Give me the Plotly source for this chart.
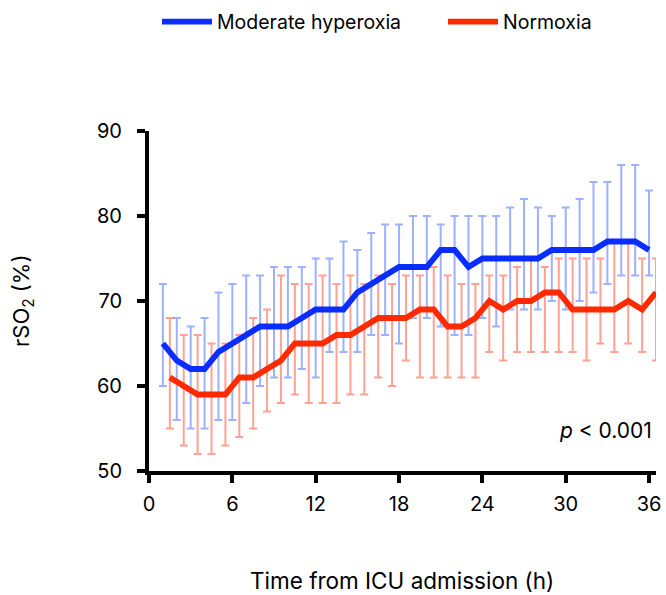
import plotly.graph_objects as go

# ---- data ----
hours = list(range(1, 37))
group_offset = 0.5  # dodge of the normoxia group on the time axis

hyper_mean = [65, 63, 62, 62, 64, 65, 66, 67, 67, 67, 68, 69, 69, 69, 71, 72, 73, 74,
              74, 74, 76, 76, 74, 75, 75, 75, 75, 75, 76, 76, 76, 76, 77, 77, 77, 76]
hyper_upper = [72, 68, 67, 68, 71, 72, 73, 73, 74, 74, 74, 75, 75, 77, 76, 78, 79, 79,
               80, 80, 79, 80, 80, 80, 80, 81, 82, 81, 80, 81, 82, 84, 84, 86, 86, 83]
hyper_lower = [60, 56, 55, 55, 56, 56, 58, 60, 61, 61, 62, 61, 64, 64, 64, 66, 66, 65,
               68, 68, 67, 66, 66, 68, 67, 69, 69, 69, 70, 69, 70, 71, 72, 73, 73, 73]

norm_mean = [61, 60, 59, 59, 59, 61, 61, 62, 63, 65, 65, 65, 66, 66, 67, 68, 68, 68,
             69, 69, 67, 67, 68, 70, 69, 70, 70, 71, 71, 69, 69, 69, 69, 70, 69, 71]
norm_upper = [68, 66, 66, 65, 65, 66, 68, 69, 73, 72, 72, 73, 72, 73, 72, 73, 72, 73,
              73, 74, 73, 72, 72, 73, 73, 74, 75, 74, 75, 75, 75, 75, 77, 77, 75, 75]
norm_lower = [55, 53, 52, 52, 53, 54, 55, 57, 58, 59, 58, 58, 58, 59, 59, 61, 60, 63,
              61, 61, 61, 61, 61, 64, 63, 64, 64, 64, 64, 64, 63, 65, 64, 65, 64, 63]

x_ticks = [0, 6, 12, 18, 24, 30, 36]
y_ticks = [50, 60, 70, 80, 90]

BLUE = "#0a2dff"
RED = "#ff2a00"
BLUE_BAR = "rgba(60,100,255,0.5)"
RED_BAR = "rgba(255,70,40,0.5)"
FONT = "Inter, Liberation Sans, Arial, sans-serif"

norm_hours = [h + group_offset for h in hours]

def err(mean, upper, lower):
    return dict(type="data", symmetric=False,
                array=[u - m for u, m in zip(upper, mean)],
                arrayminus=[m - l for m, l in zip(mean, lower)])

fig = go.Figure()

# error bars (below the lines)
fig.add_trace(go.Scatter(x=hours, y=hyper_mean, mode="markers",
                         marker=dict(size=1, opacity=0), showlegend=False, hoverinfo="skip",
                         error_y=dict(**err(hyper_mean, hyper_upper, hyper_lower),
                                      color=BLUE_BAR, thickness=2, width=4)))
fig.add_trace(go.Scatter(x=norm_hours, y=norm_mean, mode="markers",
                         marker=dict(size=1, opacity=0), showlegend=False, hoverinfo="skip",
                         error_y=dict(**err(norm_mean, norm_upper, norm_lower),
                                      color=RED_BAR, thickness=2, width=4)))
# mean lines
fig.add_trace(go.Scatter(x=hours, y=hyper_mean, mode="lines", name="Moderate hyperoxia",
                         line=dict(color=BLUE, width=5.8), legend="legend"))
fig.add_trace(go.Scatter(x=norm_hours, y=norm_mean, mode="lines", name="Normoxia",
                         line=dict(color=RED, width=5.8), legend="legend2"))

axis_common = dict(showline=True, linewidth=4, linecolor="black", ticks="outside",
                   ticklen=8, tickwidth=4, tickcolor="black", showgrid=False,
                   zeroline=False, tickfont=dict(family=FONT, size=20, color="black"))

legend_common = dict(orientation="h", xanchor="left", xref="container",
                     yref="container", y=0.963, yanchor="middle",
                     font=dict(family=FONT, size=19.5, color="black"),
                     itemwidth=50, bgcolor="rgba(0,0,0,0)")

fig.update_layout(
    width=666, height=595,
    margin=dict(l=149, r=10, t=131, b=124, autoexpand=False),
    paper_bgcolor="white", plot_bgcolor="white",
    font=dict(family=FONT, size=20, color="black"),
    xaxis=dict(range=[0, 36.5], tickvals=x_ticks, ticktext=[str(v) for v in x_ticks],
               ticklabelstandoff=4, **axis_common),
    yaxis=dict(range=[50, 90], tickvals=y_ticks, ticktext=[str(v) for v in y_ticks],
               ticklabelstandoff=11, **axis_common),
    legend=dict(x=157 / 666, **legend_common),
    legend2=dict(x=443 / 666, **legend_common),
    annotations=[
        dict(text="<i>p</i> &lt; 0.001", xref="paper", yref="paper", x=0.996, y=0.12,
             xanchor="right", yanchor="middle", showarrow=False,
             font=dict(family=FONT, size=21, color="black")),
        dict(text="Time from ICU admission (h)", xref="paper", yref="paper",
             x=0.499, y=-0.3206, xanchor="center", yanchor="middle", showarrow=False,
             font=dict(family=FONT, size=22.5, color="black")),
        dict(text="rSO<sub>2</sub> (%)", xref="paper", yref="paper",
             x=-0.2485, y=0.5, xanchor="center", yanchor="middle", showarrow=False,
             textangle=-90, font=dict(family=FONT, size=22, color="black")),
    ],
)

# the page body has a default 8px margin; remove it so the 666x595 figure fills the window
fig.write_html("out.html", config={"displayModeBar": False},
               post_script="document.body.style.margin='0px';")
